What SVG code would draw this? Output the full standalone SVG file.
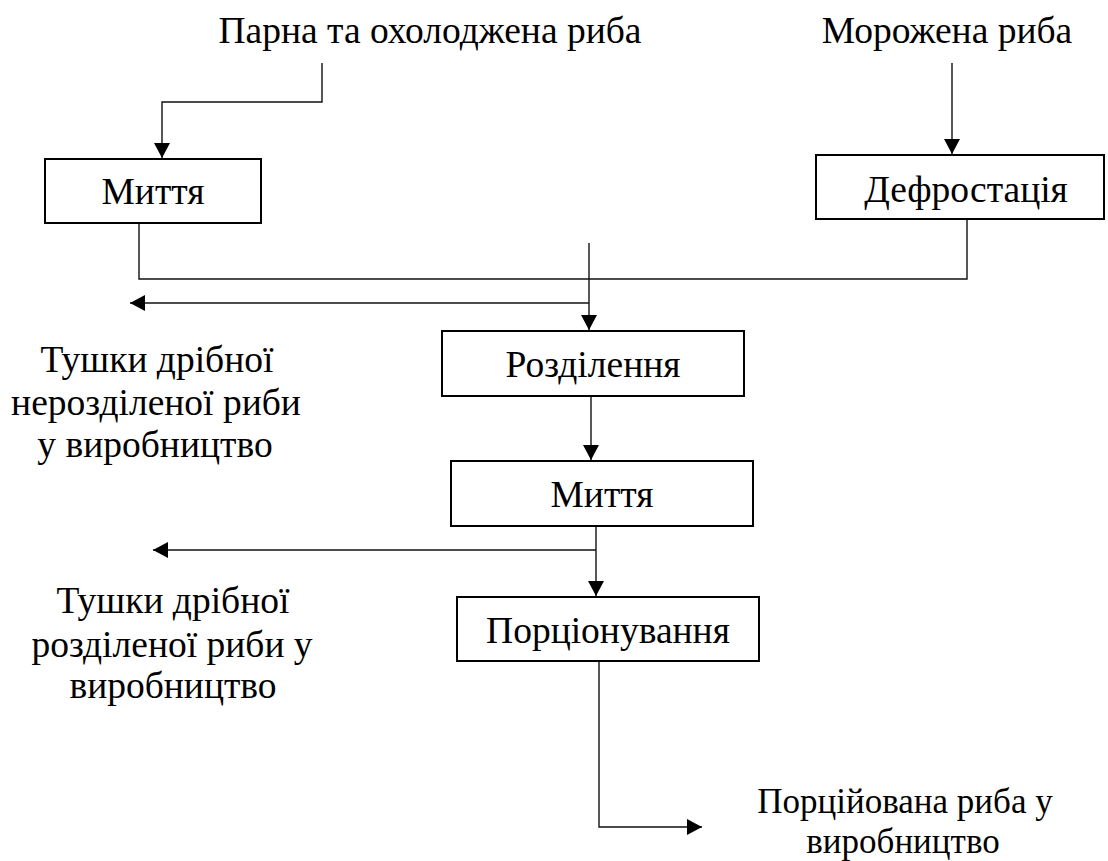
<svg xmlns="http://www.w3.org/2000/svg" width="1108" height="861" viewBox="0 0 1108 861">
<style>
text{font-family:"Liberation Serif","Times New Roman",serif;font-size:37.5px;fill:#000;text-anchor:middle}
.sm{font-size:35px}
.box{fill:#fff;stroke:#000;stroke-width:2}
.con{fill:none;stroke:#111;stroke-width:1.4}
</style>
<defs>
<marker id="ah" markerUnits="userSpaceOnUse" markerWidth="16" markerHeight="16" refX="15" refY="8" orient="auto" viewBox="0 0 16 16">
<path d="M0,0 L15,8 L0,16 z" fill="#000"/>
</marker>
</defs>
<rect width="1108" height="861" fill="#fff"/>
<g id="connectors">
<path class="con" d="M322,63 V102 H162 V158" marker-end="url(#ah)"/>
<path class="con" d="M952,63 V154" marker-end="url(#ah)"/>
<path class="con" d="M139,223 V279 H967 V219"/>
<path class="con" d="M589,243 V330" marker-end="url(#ah)"/>
<path class="con" d="M589,303 H130" marker-end="url(#ah)"/>
<path class="con" d="M591,396 V460" marker-end="url(#ah)"/>
<path class="con" d="M596,526 V596" marker-end="url(#ah)"/>
<path class="con" d="M596,550 H153" marker-end="url(#ah)"/>
<path class="con" d="M599,661 V827 H702" marker-end="url(#ah)"/>
</g>
<g id="src1"><text x="430" y="43">Парна та охолоджена риба</text></g>
<g id="src2"><text x="947" y="43">Морожена риба</text></g>
<g id="wash1"><rect class="box" x="45" y="159" width="216" height="64"/><text x="153" y="204">Миття</text></g>
<g id="defrost"><rect class="box" x="816" y="155" width="288" height="64"/><text x="966" y="202">Дефростація</text></g>
<g id="split"><rect class="box" x="442" y="331" width="302" height="65"/><text x="593" y="377">Розділення</text></g>
<g id="wash2"><rect class="box" x="451" y="461" width="302" height="65"/><text x="602" y="507">Миття</text></g>
<g id="portion"><rect class="box" x="457" y="597" width="302" height="64"/><text x="608" y="643">Порціонування</text></g>
<g id="out1"><text x="157" y="372">Тушки дрібної</text><text x="156" y="415">нерозділеної риби</text><text x="155" y="457">у виробництво</text></g>
<g id="out2"><text x="173" y="613">Тушки дрібної</text><text x="172" y="657">розділеної риби у</text><text x="173" y="698">виробництво</text></g>
<g id="out3"><text class="sm" x="905" y="813">Порційована риба у</text><text class="sm" x="903" y="853">виробництво</text></g>
</svg>
